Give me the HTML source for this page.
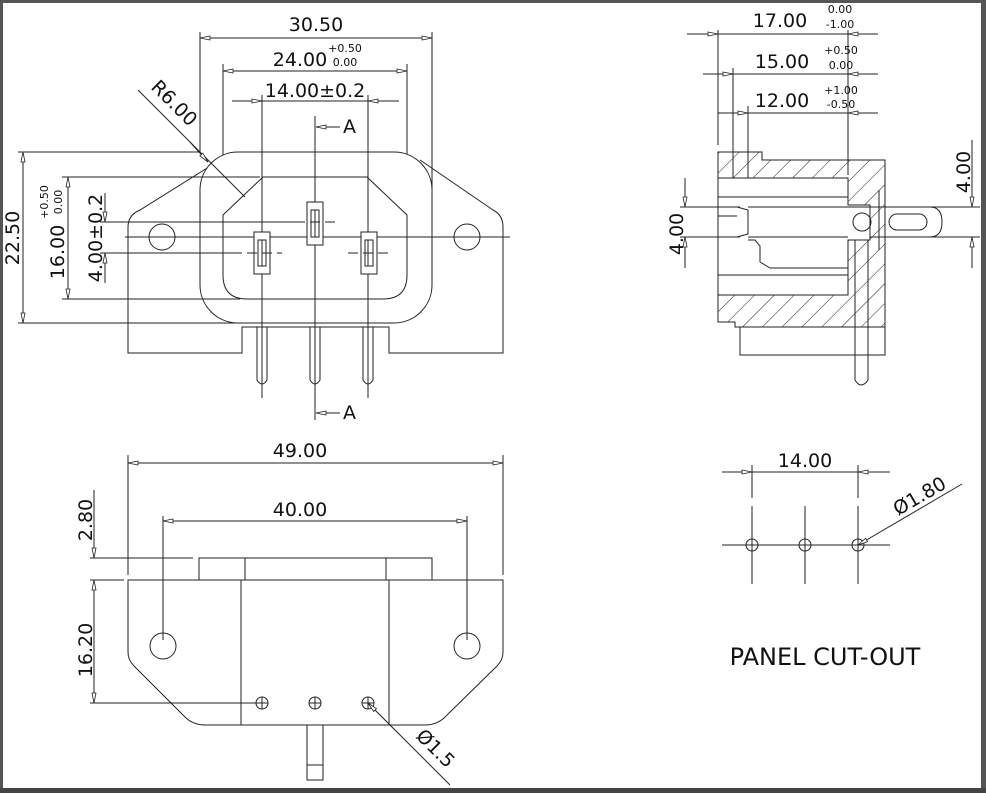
<!DOCTYPE html>
<html><head><meta charset="utf-8"><style>
html,body{margin:0;padding:0;background:#fff}
svg{display:block}
text{font-family:"DejaVu Sans","Liberation Sans",sans-serif;fill:#111}
</style></head><body>
<svg width="986" height="793" viewBox="0 0 986 793" xmlns="http://www.w3.org/2000/svg">
<defs>
<marker id="a" viewBox="0 0 10 6" refX="10" refY="3" markerWidth="12" markerHeight="6" orient="auto-start-reverse" markerUnits="userSpaceOnUse"><path d="M0,1 L10,3 L0,5 Z" fill="#fff" stroke="#222" stroke-width="0.8"/></marker>
<pattern id="h" width="14" height="14" patternUnits="userSpaceOnUse" patternTransform="rotate(45)"><line x1="0" y1="0" x2="0" y2="14" stroke="#222" stroke-width="1"/></pattern>
</defs>
<rect x="0" y="0" width="986" height="793" fill="#fff"/>
<rect x="0" y="0" width="986" height="3" fill="#555"/>
<rect x="0" y="0" width="3" height="793" fill="#555"/>
<rect x="981" y="0" width="5" height="793" fill="#555"/>
<rect x="0" y="788" width="986" height="5" fill="#444"/>

<g fill="none" stroke="#222" stroke-width="1">
<!-- ===== FRONT VIEW ===== -->
<line x1="200" y1="32" x2="200" y2="152"/><line x1="432" y1="32" x2="432" y2="195"/>
<line x1="200" y1="38" x2="432" y2="38" marker-start="url(#a)" marker-end="url(#a)"/>
<line x1="223" y1="64" x2="223" y2="215"/><line x1="407" y1="64" x2="407" y2="215"/>
<line x1="223" y1="71" x2="407" y2="71" marker-start="url(#a)" marker-end="url(#a)"/>
<line x1="262" y1="95" x2="262" y2="398"/><line x1="368" y1="95" x2="368" y2="398"/>
<line x1="232" y1="101" x2="262" y2="101" marker-end="url(#a)"/>
<line x1="399" y1="101" x2="368" y2="101" marker-end="url(#a)"/>
<line x1="262" y1="101" x2="368" y2="101"/>
<line x1="315" y1="116" x2="315" y2="420"/>
<line x1="340" y1="127" x2="316" y2="127" marker-end="url(#a)"/>
<line x1="340" y1="413" x2="316" y2="413" marker-end="url(#a)"/>
<!-- flange -->
<path d="M212,165 L140,210 Q128,215 128,227 L128,353 L242,353 L242,327 L389,327 L389,353 L503,353 L503,227 Q503,215 493,210 L420,160"/>
<!-- outer body -->
<rect x="200" y="152" width="232" height="171" rx="38" fill="#fff"/>
<!-- inner -->
<path d="M223,215 L263,177 L367,177 L407,215 L407,275 Q407,299 383,299 L247,299 Q223,299 223,275 Z"/>
<circle cx="162" cy="237" r="13"/><circle cx="467" cy="237" r="13"/>
<line x1="125" y1="237" x2="510" y2="237"/>
<line x1="262" y1="95" x2="262" y2="398"/><line x1="368" y1="95" x2="368" y2="398"/>
<line x1="315" y1="116" x2="315" y2="420"/>
<!-- slots -->
<rect x="254" y="232" width="16" height="42" fill="#fff"/><rect x="258" y="240" width="8" height="26"/>
<rect x="307" y="202" width="16" height="43" fill="#fff"/><rect x="311" y="210" width="8" height="27"/>
<rect x="361" y="232" width="16" height="42" fill="#fff"/><rect x="365" y="240" width="8" height="26"/>
<line x1="262" y1="240" x2="262" y2="266"/><line x1="315" y1="210" x2="315" y2="237"/><line x1="368" y1="240" x2="368" y2="266"/>
<line x1="232" y1="253" x2="282" y2="253" stroke-dasharray="10,5"/>
<line x1="348" y1="253" x2="389" y2="253" stroke-dasharray="10,5"/>
<line x1="295" y1="222" x2="335" y2="222" stroke-dasharray="10,5"/>
<!-- pins -->
<path d="M257,327 L257,380 Q262,388 267,380 L267,327"/>
<path d="M310,327 L310,380 Q315,388 320,380 L320,327"/>
<path d="M363,327 L363,380 Q368,388 373,380 L373,327"/>
<!-- left dims -->
<line x1="18" y1="152" x2="200" y2="152"/><line x1="18" y1="323" x2="245" y2="323"/>
<line x1="23" y1="152" x2="23" y2="323" marker-start="url(#a)" marker-end="url(#a)"/>
<line x1="62" y1="177" x2="260" y2="177"/><line x1="62" y1="299" x2="240" y2="299"/>
<line x1="68" y1="177" x2="68" y2="299" marker-start="url(#a)" marker-end="url(#a)"/>
<line x1="100" y1="222" x2="295" y2="222"/><line x1="100" y1="253" x2="232" y2="253"/>
<line x1="105" y1="193" x2="105" y2="222" marker-end="url(#a)"/>
<line x1="105" y1="283" x2="105" y2="253" marker-end="url(#a)"/>
<line x1="138" y1="90" x2="245" y2="197"/>
<line x1="190" y1="142" x2="208" y2="162" marker-end="url(#a)"/>

<!-- ===== SIDE VIEW ===== -->
<line x1="718" y1="30" x2="718" y2="145"/><line x1="848" y1="30" x2="848" y2="175"/>
<line x1="733" y1="68" x2="733" y2="210"/><line x1="748" y1="106" x2="748" y2="240"/>
<line x1="687" y1="34" x2="718" y2="34" marker-end="url(#a)"/>
<line x1="878" y1="34" x2="848" y2="34" marker-end="url(#a)"/>
<line x1="718" y1="34" x2="848" y2="34"/>
<line x1="703" y1="74" x2="733" y2="74" marker-end="url(#a)"/>
<line x1="878" y1="74" x2="848" y2="74" marker-end="url(#a)"/>
<line x1="733" y1="74" x2="848" y2="74"/>
<line x1="718" y1="113" x2="748" y2="113" marker-end="url(#a)"/>
<line x1="878" y1="113" x2="848" y2="113" marker-end="url(#a)"/>
<line x1="748" y1="113" x2="848" y2="113"/>
<path d="M718,152 L762,152 L762,160 L885,160 L885,327 L735,327 L735,322 L718,322 Z M718,178 L848,178 L848,205 L870,205 L870,240 L848,240 L848,295 L718,295 Z" fill="url(#h)" fill-rule="evenodd"/>
<path d="M718,152 L762,152 L762,160 L885,160 L885,327 L735,327 L735,322 L718,322 Z"/>
<rect x="740" y="327" width="145" height="28"/>
<path d="M718,178 L848,178 L848,205 L870,205 L870,240 L848,240 L848,295 L718,295 Z" fill="#fff"/>
<line x1="718" y1="197" x2="848" y2="197"/>
<line x1="718" y1="275" x2="848" y2="275"/>
<path d="M748,240 L755,240 L760,246 L760,262 L770,268 L848,268"/>
<path d="M718,207 L737,207 L748,210 L748,234 L737,237 L718,237"/>
<line x1="718" y1="216" x2="737" y2="216"/>
<path d="M748,207 L930,207 Q942,207 942,222 Q942,237 930,237 L870,237"/>
<line x1="748" y1="237" x2="848" y2="237"/>
<circle cx="862" cy="222" r="9"/>
<rect x="889" y="214" width="38" height="16" rx="8"/>
<path d="M855,240 L855,380 Q861,390 868,380 L868,240"/>
<line x1="879" y1="190" x2="879" y2="250"/>
<line x1="680" y1="207" x2="740" y2="207"/><line x1="680" y1="237" x2="740" y2="237"/>
<line x1="685" y1="178" x2="685" y2="207" marker-end="url(#a)"/>
<line x1="685" y1="268" x2="685" y2="237" marker-end="url(#a)"/>
<line x1="930" y1="207" x2="980" y2="207"/><line x1="930" y1="237" x2="980" y2="237"/>
<line x1="972" y1="140" x2="972" y2="207" marker-end="url(#a)"/>
<line x1="972" y1="268" x2="972" y2="237" marker-end="url(#a)"/>

<!-- ===== BOTTOM VIEW ===== -->
<line x1="128" y1="455" x2="128" y2="575"/><line x1="503" y1="455" x2="503" y2="575"/>
<line x1="128" y1="463" x2="503" y2="463" marker-start="url(#a)" marker-end="url(#a)"/>
<line x1="163" y1="516" x2="163" y2="640"/><line x1="467" y1="516" x2="467" y2="640"/>
<line x1="163" y1="521" x2="467" y2="521" marker-start="url(#a)" marker-end="url(#a)"/>
<rect x="199" y="558" width="233" height="22"/>
<line x1="245" y1="558" x2="245" y2="580"/><line x1="386" y1="558" x2="386" y2="580"/>
<path d="M128,580 L503,580 L503,652 Q503,660 497,666 L444,718 Q436,725 425,725 L205,725 Q194,725 186,718 L134,666 Q128,660 128,652 Z"/>
<line x1="241" y1="580" x2="241" y2="725"/><line x1="389" y1="580" x2="389" y2="725"/>
<circle cx="163" cy="646" r="13"/><circle cx="467" cy="646" r="13"/>
<circle cx="262" cy="703" r="6"/><circle cx="315" cy="703" r="6"/><circle cx="368" cy="703" r="6"/>
<path d="M256,703h12M262,697v12M309,703h12M315,697v12M362,703h12M368,697v12"/>
<rect x="307" y="725" width="16" height="55"/><line x1="307" y1="765" x2="323" y2="765"/>
<line x1="450" y1="785" x2="368" y2="703" marker-end="url(#a)"/>
<line x1="90" y1="558" x2="193" y2="558"/><line x1="90" y1="580" x2="124" y2="580"/>
<line x1="94" y1="490" x2="94" y2="558" marker-end="url(#a)"/>
<line x1="94" y1="580" x2="94" y2="703" marker-start="url(#a)" marker-end="url(#a)"/>
<line x1="90" y1="703" x2="256" y2="703"/>

<!-- ===== PANEL CUT-OUT ===== -->
<line x1="752" y1="465" x2="752" y2="498"/><line x1="858" y1="465" x2="858" y2="498"/>
<line x1="722" y1="472" x2="752" y2="472" marker-end="url(#a)"/>
<line x1="890" y1="472" x2="858" y2="472" marker-end="url(#a)"/>
<line x1="752" y1="472" x2="858" y2="472"/>
<path d="M752,506v35M752,549v35M805,506v35M805,549v35M858,506v35M858,549v35" />
<line x1="722" y1="545" x2="890" y2="545"/>
<circle cx="752" cy="545" r="6" fill="#fff"/><circle cx="805" cy="545" r="6" fill="#fff"/><circle cx="858" cy="545" r="6" fill="#fff"/>
<path d="M746,545h12M752,539v12M799,545h12M805,539v12M852,545h12M858,539v12"/>
<line x1="962" y1="484" x2="858" y2="545" marker-end="url(#a)"/>
</g>

<g font-size="19">
<text x="316" y="31" text-anchor="middle">30.50</text>
<text x="300" y="66" text-anchor="middle">24.00</text>
<text x="345" y="52" font-size="11" text-anchor="middle">+0.50</text>
<text x="345" y="66" font-size="11" text-anchor="middle">0.00</text>
<text x="315" y="97" text-anchor="middle">14.00±0.2</text>
<text x="343" y="133">A</text>
<text x="343" y="419">A</text>
<text transform="translate(19,238) rotate(-90)" text-anchor="middle">22.50</text>
<text transform="translate(64,252) rotate(-90)" text-anchor="middle">16.00</text>
<text transform="translate(48,202) rotate(-90)" font-size="11" text-anchor="middle">+0.50</text>
<text transform="translate(62,202) rotate(-90)" font-size="11" text-anchor="middle">0.00</text>
<text transform="translate(102,238) rotate(-90)" text-anchor="middle">4.00±0.2</text>
<text transform="translate(150,88) rotate(45)">R6.00</text>
<text x="780" y="27" text-anchor="middle">17.00</text>
<text x="840" y="13" font-size="11" text-anchor="middle">0.00</text>
<text x="840" y="28" font-size="11" text-anchor="middle">-1.00</text>
<text x="782" y="68" text-anchor="middle">15.00</text>
<text x="841" y="54" font-size="11" text-anchor="middle">+0.50</text>
<text x="841" y="69" font-size="11" text-anchor="middle">0.00</text>
<text x="782" y="107" text-anchor="middle">12.00</text>
<text x="841" y="94" font-size="11" text-anchor="middle">+1.00</text>
<text x="841" y="108" font-size="11" text-anchor="middle">-0.50</text>
<text transform="translate(683,234) rotate(-90)" text-anchor="middle">4.00</text>
<text transform="translate(970,172) rotate(-90)" text-anchor="middle">4.00</text>
<text x="300" y="457" text-anchor="middle">49.00</text>
<text x="300" y="516" text-anchor="middle">40.00</text>
<text transform="translate(92,520) rotate(-90)" text-anchor="middle">2.80</text>
<text transform="translate(92,650) rotate(-90)" text-anchor="middle">16.20</text>
<text transform="translate(415,737) rotate(45)">Ø1.5</text>
<text x="805" y="467" text-anchor="middle">14.00</text>
<text transform="translate(898,516) rotate(-30)">Ø1.80</text>
<text x="825" y="665" font-size="24" text-anchor="middle">PANEL CUT-OUT</text>
</g>
</svg>
</body></html>
